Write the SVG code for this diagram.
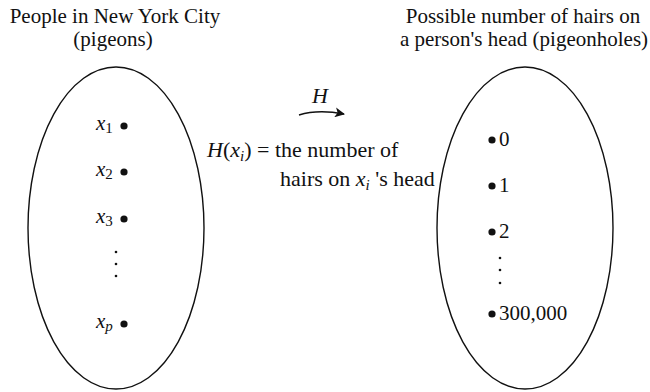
<svg xmlns="http://www.w3.org/2000/svg" width="650" height="392" viewBox="0 0 650 392">
<defs>
<style>
text{font-family:'Liberation Serif','Tinos','Times New Roman','DejaVu Serif',serif;fill:#111;}
.title{font-size:21px;text-anchor:middle;}
.lbl{font-size:21px;}
.map{font-size:22px;}
.it{font-style:italic;}
.set{fill:none;stroke:#111;stroke-width:1.4;}
.dot{fill:#111;}
.sm{fill:#111;}
</style>
<marker id="ah" viewBox="0 0 10 10" refX="9" refY="5" markerWidth="10" markerHeight="10" markerUnits="userSpaceOnUse" orient="auto">
<path d="M0,0 L10,5 L0,10 L2.5,5 Z" fill="#111"/>
</marker>
</defs>
<rect width="650" height="392" fill="#fff"/>

<g id="pigeons">
<text class="title" x="115" y="23">People in New York City</text>
<text class="title" x="113" y="46">(pigeons)</text>
<ellipse class="set" cx="116" cy="228" rx="88" ry="161"/>
<g id="x1"><text class="lbl" x="96" y="130"><tspan class="it">x</tspan><tspan font-size="15" dy="3">1</tspan></text><circle class="dot" cx="124" cy="126" r="3.6"/></g>
<g id="x2"><text class="lbl" x="96" y="176"><tspan class="it">x</tspan><tspan font-size="15" dy="3">2</tspan></text><circle class="dot" cx="124" cy="172" r="3.6"/></g>
<g id="x3"><text class="lbl" x="96" y="223"><tspan class="it">x</tspan><tspan font-size="15" dy="3">3</tspan></text><circle class="dot" cx="124" cy="219" r="3.6"/></g>
<circle class="sm" cx="116" cy="252" r="1.3"/>
<circle class="sm" cx="116" cy="264" r="1.3"/>
<circle class="sm" cx="116" cy="276" r="1.3"/>
<g id="xp"><text class="lbl" x="96" y="328"><tspan class="it">x</tspan><tspan class="it" font-size="15" dy="3">p</tspan></text><circle class="dot" cx="124" cy="324" r="3.6"/></g>
</g>

<g id="pigeonholes">
<text class="title" x="523" y="23">Possible number of hairs on</text>
<text class="title" x="524" y="46">a person's head (pigeonholes)</text>
<ellipse class="set" cx="525" cy="228" rx="88" ry="161"/>
<g id="h0"><circle class="dot" cx="492" cy="140" r="3.6"/><text class="lbl" x="499" y="146">0</text></g>
<g id="h1"><circle class="dot" cx="492" cy="186" r="3.6"/><text class="lbl" x="499" y="192">1</text></g>
<g id="h2"><circle class="dot" cx="492" cy="232" r="3.6"/><text class="lbl" x="499" y="238">2</text></g>
<circle class="sm" cx="500" cy="258" r="1.3"/>
<circle class="sm" cx="500" cy="270" r="1.3"/>
<circle class="sm" cx="500" cy="283" r="1.3"/>
<g id="h300000"><circle class="dot" cx="492" cy="314" r="3.6"/><text class="lbl" x="499" y="320">300,000</text></g>
</g>

<g id="connectors">
<path d="M299,115 Q318,109 344,114" fill="none" stroke="#111" stroke-width="1.4" marker-end="url(#ah)"/>
<text class="map it" x="320" y="103" text-anchor="middle">H</text>
</g>

<g id="mapping-label">
<text class="map" x="207" y="157"><tspan class="it">H</tspan>(<tspan class="it">x</tspan><tspan class="it" font-size="15" dy="4">i</tspan><tspan dy="-4">) = the number of</tspan></text>
<text class="map" x="280" y="186">hairs on <tspan class="it">x</tspan><tspan class="it" font-size="15" dy="4">i</tspan><tspan dy="-4"> 's head</tspan></text>
</g>
</svg>
